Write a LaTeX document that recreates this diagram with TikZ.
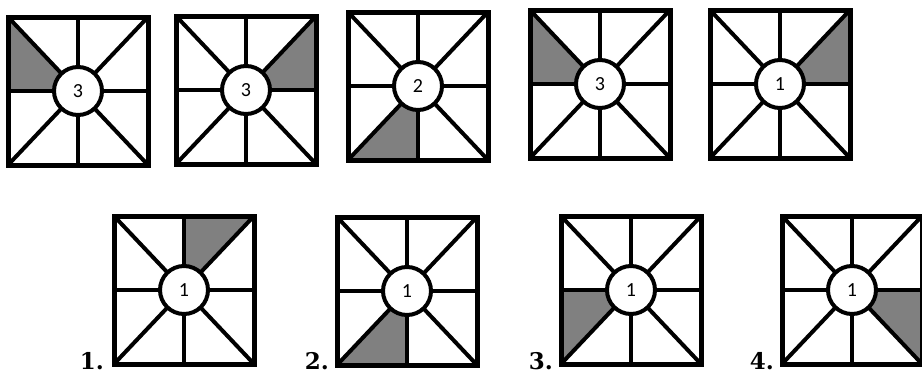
\documentclass[tikz,border=0pt]{standalone}
\usepackage{fontspec}
\newfontfamily\digitfont{Carlito}
\newfontfamily\labelfont{DejaVu Serif}
\tikzset{
  frame/.style={line width=5pt,line join=miter},
  spoke/.style={line width=4pt},
  part/.style={fill=gray},
  hub/.style={circle,draw,fill=white,line width=4pt,minimum size=48pt,inner sep=0pt,
    font=\digitfont\fontsize{20}{20}\selectfont},
  answer/.style={anchor=base east,inner sep=0pt,
    font=\labelfont\bfseries\fontsize{23}{23}\selectfont}
}
% name, centre x, centre y, digit, two outer points of the grey part
\newcommand{\panel}[6]{%
  \begin{scope}[shift={(#2,#3)}]
    \fill[part] (0,0) -- #5 -- #6 -- cycle;
    \foreach \p in {(-70,-74),(0,-74),(70,-74),(70,0),(70,74),(0,74),(-70,74),(-70,0)}
      \draw[spoke] (0,0) -- \p;
    \draw[frame] (-70,-74) rectangle (70,74);
    \node[hub] (#1) at (0,0) {#4};
  \end{scope}}
\begin{document}
\begin{tikzpicture}[x=1pt,y=-1pt]
  \useasboundingbox (0,0) rectangle (922,375);
  \panel{qa}{78}{91}{3}{(-70,-74)}{(-70,0)}
  \panel{qb}{246}{90}{3}{(70,-74)}{(70,0)}
  \panel{qc}{418}{86}{2}{(-70,74)}{(0,74)}
  \panel{qd}{600}{84}{3}{(-70,-74)}{(-70,0)}
  \panel{qe}{780}{84}{1}{(70,-74)}{(70,0)}
  \panel{ansa}{184}{290}{1}{(0,-74)}{(70,-74)}
  \panel{ansb}{407}{291}{1}{(-70,74)}{(0,74)}
  \panel{ansc}{631}{290}{1}{(-70,0)}{(-70,74)}
  \panel{ansd}{852}{290}{1}{(70,0)}{(70,74)}
  \node[answer] (laba) at (104,369) {1.};
  \node[answer] (labb) at (329,369) {2.};
  \node[answer] (labc) at (553,369) {3.};
  \node[answer] (labd) at (774,369) {4.};
\end{tikzpicture}
\end{document}
